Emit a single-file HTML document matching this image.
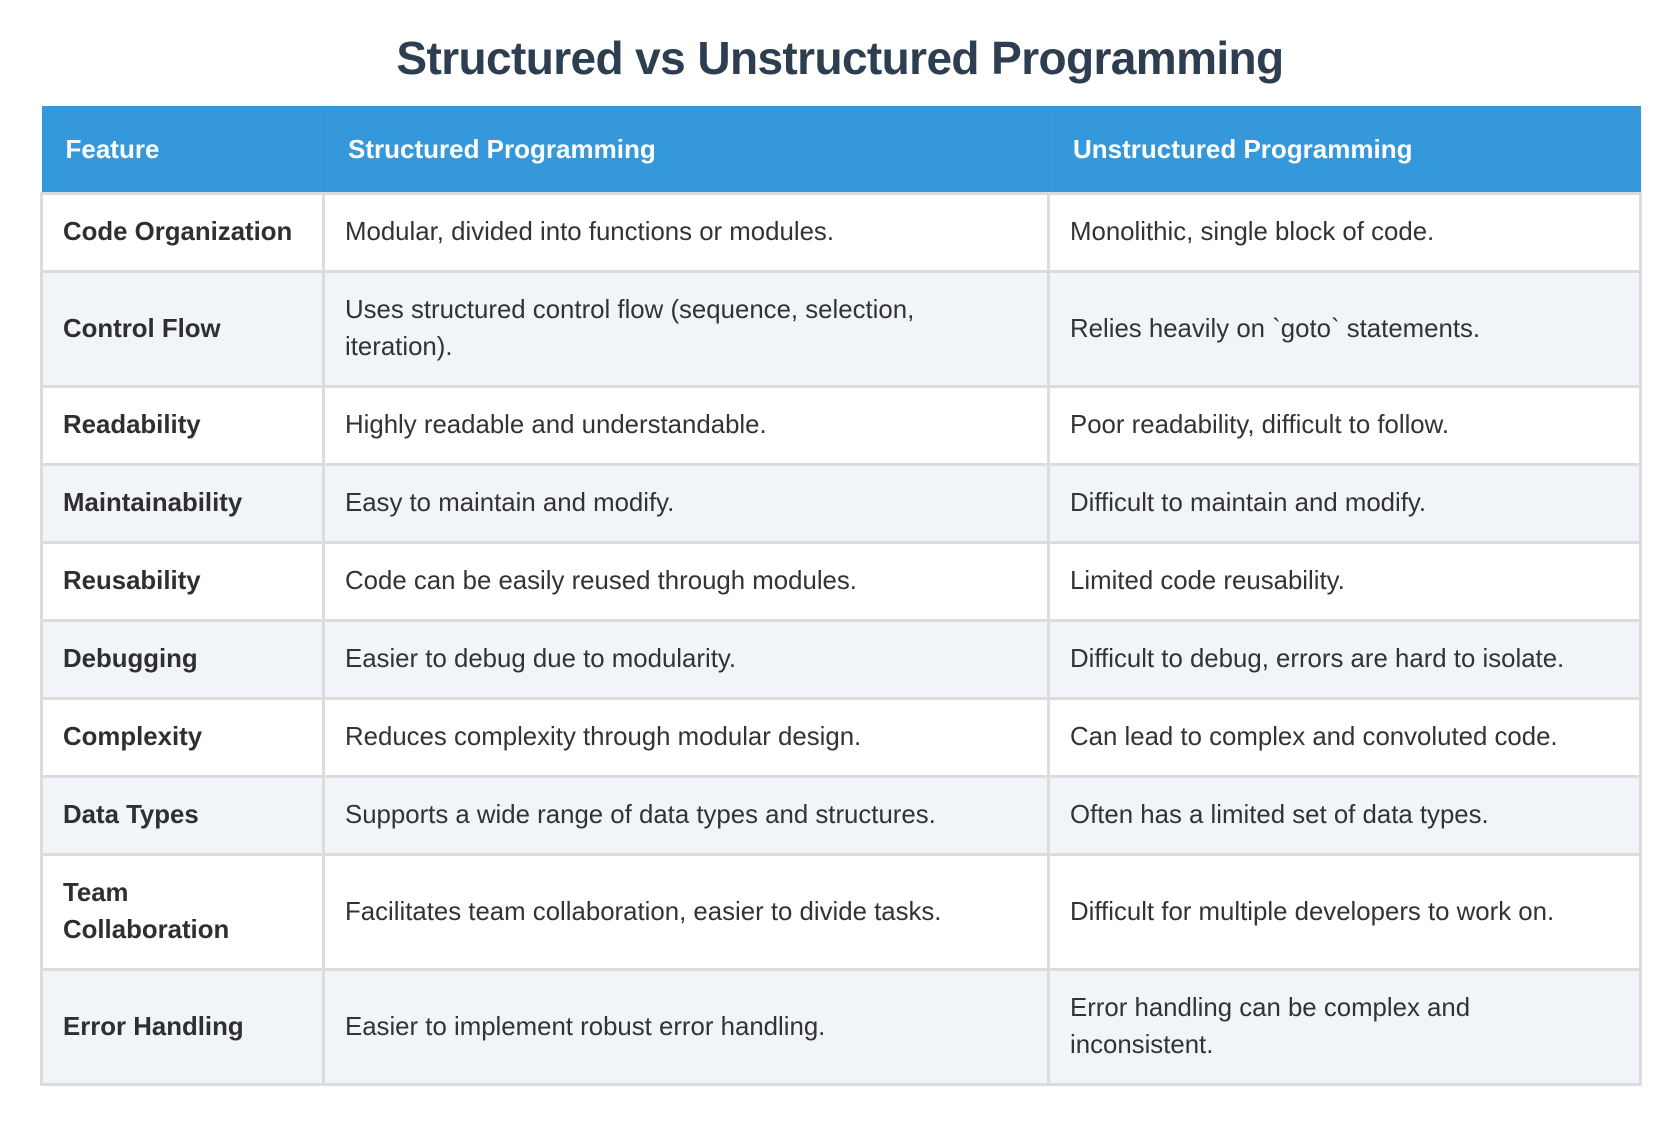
<!DOCTYPE html>
<html><head><meta charset="utf-8"><style>
html,body{margin:0;padding:0;background:#fff;width:1680px;height:1128px;overflow:hidden;font-family:"Liberation Sans",Arial,sans-serif;}
h1{position:absolute;left:0;top:28px;width:1680px;margin:0;text-align:center;font-size:46px;line-height:60px;color:#2c3e50;font-weight:bold;letter-spacing:-0.6px;}
table{position:absolute;left:40px;top:106px;width:1599px;border-collapse:collapse;table-layout:fixed;}
th{background:#3498db;color:#fff;font-size:26px;font-weight:bold;text-align:left;height:86px;padding:0 0 0 24px;border-left:1px solid #3a8fcf;}
th:first-child{border-left:none;}
td{border:3px solid #dcdcdc;font-size:25.8px;color:#333;padding:0 20px;line-height:37px;}
td:first-child{font-weight:bold;color:#2f2f2f;}
tr:nth-child(odd) td{background:#f1f4f9;}
tr.a td{height:75px;} tr.b td{height:112px;}
</style></head><body>
<h1>Structured vs Unstructured Programming</h1>
<table>
<colgroup><col style="width:282px"><col style="width:725px"><col style="width:592px"></colgroup>
<tr><th>Feature</th><th>Structured Programming</th><th>Unstructured Programming</th></tr>
<tr class="a"><td>Code Organization</td><td>Modular, divided into functions or modules.</td><td>Monolithic, single block of code.</td></tr>
<tr class="b"><td>Control Flow</td><td>Uses structured control flow (sequence, selection,<br>iteration).</td><td>Relies heavily on `goto` statements.</td></tr>
<tr class="a"><td>Readability</td><td>Highly readable and understandable.</td><td>Poor readability, difficult to follow.</td></tr>
<tr class="a"><td>Maintainability</td><td>Easy to maintain and modify.</td><td>Difficult to maintain and modify.</td></tr>
<tr class="a"><td>Reusability</td><td>Code can be easily reused through modules.</td><td>Limited code reusability.</td></tr>
<tr class="a"><td>Debugging</td><td>Easier to debug due to modularity.</td><td>Difficult to debug, errors are hard to isolate.</td></tr>
<tr class="a"><td>Complexity</td><td>Reduces complexity through modular design.</td><td>Can lead to complex and convoluted code.</td></tr>
<tr class="a"><td>Data Types</td><td>Supports a wide range of data types and structures.</td><td>Often has a limited set of data types.</td></tr>
<tr class="b"><td>Team<br>Collaboration</td><td>Facilitates team collaboration, easier to divide tasks.</td><td>Difficult for multiple developers to work on.</td></tr>
<tr class="b"><td>Error Handling</td><td>Easier to implement robust error handling.</td><td>Error handling can be complex and<br>inconsistent.</td></tr>
</table>
</body></html>
